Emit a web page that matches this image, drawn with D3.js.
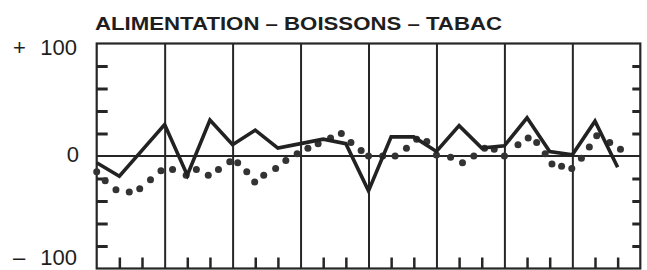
<!DOCTYPE html>
<html>
<head>
<meta charset="utf-8">
<script src="https://cdn.jsdelivr.net/npm/d3@7"></script>
<style>
  html, body { margin: 0; padding: 0; background: #fff; }
  #chart { width: 647px; height: 270px; overflow: hidden; }
  text { font-family: "Liberation Sans", Arial, Helvetica, sans-serif; fill: #1e1e1e; }
</style>
</head>
<body>
<div id="chart"></div>
<script>
// Chart title and y labels
const title = "ALIMENTATION – BOISSONS – TABAC";
const yLabelValues = [100, 0, -100];
const yLabelSigns = ["+", "", "–"];
const yLabelTexts = ["100", "0", "100"];

// Solid series: one reading every 4 months (month index from start of first year)
const lineMonths = [0, 4, 8, 12, 16, 20, 24, 28, 32, 36, 40, 44,
                    48, 52, 56, 60, 64, 68, 72, 76, 80, 84, 88, 92];
const lineValues = [-6, -18, 5, 28, -17, 32, 10, 23, 7, 11, 15, 11,
                    -31, 17, 17, 4, 27, 7, 9, 34, 4, 1, 31, -10];

// Dotted series (month index, value)
const dotMonths = [0, 1.5, 3.4, 5.75, 7.6, 9.5, 11.35, 13.4, 15.8, 17.6, 19.7, 21.5,
                   23.5, 24.9, 26.5, 27.9, 29.5, 31.6, 33.4, 35.4, 37.3, 39.1, 41.3, 43.2,
                   44.9, 46.7, 48.0, 50.5, 52.7, 54.7, 56.5, 58.3, 60.0, 62.5, 64.6, 66.6,
                   68.5, 70.2, 72.0, 74.4, 76.2, 77.7, 79.2, 80.4, 82.1, 83.9, 85.6, 87.0,
                   88.3, 90.6, 92.5];
const dotValues = [-14, -22, -30, -32, -29, -21, -13, -12, -17, -12, -17, -12,
                   -5, -6, -14, -23, -17, -11, -4, 2, 7, 11, 16, 20,
                   12, 5, 0, 0, 0, 7, 15, 13, 1, -1, -6, 0,
                   7, 6, 0, 10, 16, 12, 2, -7, -9, -11, -2, 8,
                   18, 12, 6];

// Axis ticks
const yearTicks = [12, 24, 36, 48, 60, 72, 84];
const subTicks = [4, 8, 16, 20, 28, 32, 40, 44, 52, 56, 64, 68, 76, 80, 88, 92];
const yTicks = [80, 60, 40, 20, -20, -40, -60, -80];

const width = 647, height = 270;
const plot = { left: 96.7, right: 640.3, top: 43.5, bottom: 268.5 };

const x = d3.scaleLinear().domain([0, 96]).range([plot.left, plot.right]);
const y = d3.scaleLinear().domain([-100, 100]).range([plot.bottom, plot.top]);

const svg = d3.create("svg")
    .attr("width", width)
    .attr("height", height)
    .attr("viewBox", [0, 0, width, height]);

const ink = "#262626";

// Title
svg.append("text")
    .attr("x", 95)
    .attr("y", 30)
    .attr("textLength", 407)
    .attr("lengthAdjust", "spacingAndGlyphs")
    .style("font-size", "18px")
    .style("font-weight", "bold")
    .text(title);

// Year separators (full height)
svg.append("g")
    .attr("transform", `translate(0,${plot.bottom})`)
    .call(d3.axisTop(x).tickValues(yearTicks).tickSize(plot.bottom - plot.top).tickFormat(""))
    .call(g => g.select(".domain").remove())
    .call(g => g.selectAll("line").attr("stroke", ink).attr("stroke-width", 2));

// Small ticks at the bottom
svg.append("g")
    .attr("transform", `translate(0,${plot.bottom})`)
    .call(d3.axisTop(x).tickValues(subTicks).tickSize(11).tickFormat(""))
    .call(g => g.select(".domain").remove())
    .call(g => g.selectAll("line").attr("stroke", ink).attr("stroke-width", 2.5));

// Left inner ticks
svg.append("g")
    .attr("transform", `translate(${plot.left},0)`)
    .call(d3.axisRight(y).tickValues(yTicks).tickSize(11).tickFormat(""))
    .call(g => g.select(".domain").remove())
    .call(g => g.selectAll("line").attr("stroke", ink).attr("stroke-width", 3));

// Right inner ticks
svg.append("g")
    .attr("transform", `translate(${plot.right},0)`)
    .call(d3.axisLeft(y).tickValues(yTicks).tickSize(8).tickFormat(""))
    .call(g => g.select(".domain").remove())
    .call(g => g.selectAll("line").attr("stroke", ink).attr("stroke-width", 3));

// Zero line
svg.append("line")
    .attr("x1", plot.left).attr("x2", plot.right)
    .attr("y1", y(0)).attr("y2", y(0))
    .attr("stroke", ink)
    .attr("stroke-width", 2);

// Frame
svg.append("rect")
    .attr("x", plot.left).attr("y", plot.top)
    .attr("width", plot.right - plot.left).attr("height", plot.bottom - plot.top)
    .attr("fill", "none")
    .attr("stroke", ink)
    .attr("stroke-width", 2.2);

// Y labels (the bottom one sits at the lower edge, kept just inside the picture)
const labelDy = [11.5, 6, -4];
const labelEnd = [77, 79, 77];
const labels = svg.append("g").style("font-size", "22px");
yLabelValues.forEach((v, i) => {
    labels.append("text")
        .attr("x", labelEnd[i])
        .attr("y", y(v) + labelDy[i])
        .attr("text-anchor", "end")
        .text(yLabelTexts[i]);
    if (yLabelSigns[i]) {
        labels.append("text")
            .attr("x", 13)
            .attr("y", y(v) + labelDy[i])
            .text(yLabelSigns[i]);
    }
});

// Dotted series
svg.append("g")
    .selectAll("circle")
    .data(dotMonths.map((m, i) => [m, dotValues[i]]))
    .join("circle")
    .attr("cx", d => x(d[0]))
    .attr("cy", d => y(d[1]))
    .attr("r", 3.5)
    .attr("fill", "#333");

// Solid series
const line = d3.line()
    .x(d => x(d[0]))
    .y(d => y(d[1]));

svg.append("path")
    .datum(lineMonths.map((m, i) => [m, lineValues[i]]))
    .attr("fill", "none")
    .attr("stroke", "#222")
    .attr("stroke-width", 3.6)
    .attr("stroke-linejoin", "miter")
    .attr("d", line);

document.getElementById("chart").appendChild(svg.node());
</script>
</body>
</html>
